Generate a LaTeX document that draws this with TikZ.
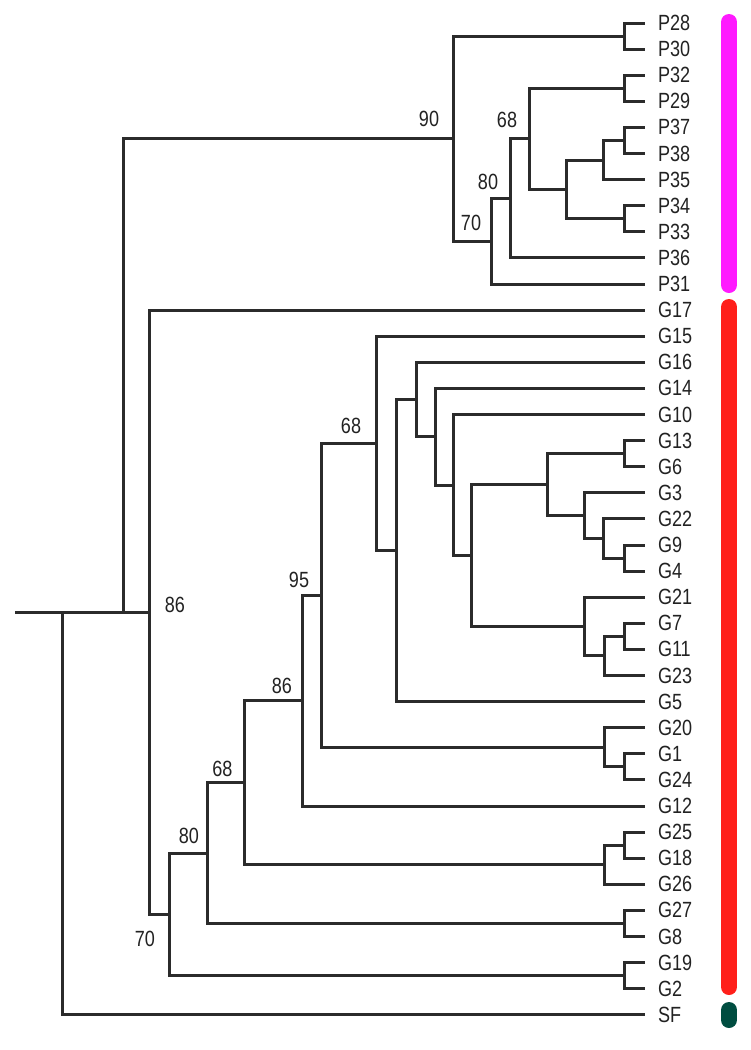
\documentclass[tikz,border=0pt]{standalone}
\usepackage{fontspec}
\setmainfont{Liberation Sans}[FakeStretch=0.82]
\definecolor{ln}{HTML}{2B2B2B}
\definecolor{txt}{HTML}{222222}
\definecolor{cP}{HTML}{FF1AFF}
\definecolor{cG}{HTML}{FF1F1A}
\definecolor{cS}{HTML}{004D40}
\newcommand\lblfont{\fontsize{22}{24}\selectfont}
\begin{document}
\begin{tikzpicture}[x=1pt,y=-1pt,
  br/.style={line width=3pt, draw=ln},
  leaf/.style={anchor=west, inner xsep=0pt, inner ysep=0pt, outer xsep=13pt, outer ysep=0pt, font=\lblfont, text=txt},
  bs/.style={inner sep=0pt, font=\lblfont, text=txt},
  bar/.style={line width=16pt, line cap=round}]
\useasboundingbox (0,0) rectangle (751,1050);
% leaves
\foreach \n/\i in {P28/0,P30/1,P32/2,P29/3,P37/4,P38/5,P35/6,P34/7,P33/8,P36/9,P31/10,
  G17/11,G15/12,G16/13,G14/14,G10/15,G13/16,G6/17,G3/18,G22/19,G9/20,G4/21,G21/22,G7/23,G11/24,G23/25,
  G5/26,G20/27,G1/28,G24/29,G12/30,G25/31,G18/32,G26/33,G27/34,G8/35,G19/36,G2/37,SF/38}
  \node[leaf] (\n) at (645,{23+26.1*\i}) {\n};
% internal nodes, P clade
\coordinate (nA) at (624,36.05);
\coordinate (nB) at (624,88.25);
\coordinate (nF) at (624,140.45);
\coordinate (nD) at (603,160.0);
\coordinate (nE) at (624,218.75);
\coordinate (nC) at (566,189.4);
\coordinate (nP68) at (529,138.8);
\coordinate (nP80) at (510,198.35);
\coordinate (nP70) at (491,241.2);
\coordinate (nP90) at (453,138.6);
% G clade
\coordinate (nS) at (624,636.35);
\coordinate (nR2) at (604,655.9);
\coordinate (nN) at (584,626.55);
\coordinate (nGQ) at (624,558.05);
\coordinate (nGP) at (603,538.5);
\coordinate (nGO) at (584,515.65);
\coordinate (nGM2) at (624,453.65);
\coordinate (nGM) at (547,484.65);
\coordinate (nGL) at (471,555.6);
\coordinate (nGK) at (453,485.05);
\coordinate (nGJ) at (435,436.7);
\coordinate (nGI) at (416,399.5);
\coordinate (nGH) at (396,550.55);
\coordinate (nG68) at (376,443.4);
\coordinate (nGT2) at (624,766.85);
\coordinate (nGT) at (604,747.3);
\coordinate (nG95) at (321,595.35);
\coordinate (nG86) at (302,700.7);
\coordinate (nGU2) at (624,845.15);
\coordinate (nGU) at (604,864.7);
\coordinate (nG68b) at (244,782.7);
\coordinate (nGV) at (624,923.45);
\coordinate (nG80) at (207,853.1);
\coordinate (nGW) at (624,975.65);
\coordinate (nG70) at (169,914.4);
\coordinate (nG) at (149,612.25);
% root
\coordinate (root) at (15,612.25);
\coordinate (nR) at (62,612.25);
\coordinate (nPG) at (123,612.25);
% connectors P clade
\foreach \p/\c in {nA/P28,nA/P30,nB/P32,nB/P29,nF/P37,nF/P38,nD/nF,nD/P35,nE/P34,nE/P33,
  nC/nD,nC/nE,nP68/nB,nP68/nC,nP80/nP68,nP80/P36,nP70/nP80,nP70/P31,nP90/nA,nP90/nP70}
  \draw[br] (\p) |- (\c);
% connectors G clade
\foreach \p/\c in {nS/G7,nS/G11,nR2/nS,nR2/G23,nN/G21,nN/nR2,nGQ/G9,nGQ/G4,nGP/G22,nGP/nGQ,
  nGO/G3,nGO/nGP,nGM2/G13,nGM2/G6,nGM/nGM2,nGM/nGO,nGL/nGM,nGL/nN,nGK/G10,nGK/nGL,
  nGJ/G14,nGJ/nGK,nGI/G16,nGI/nGJ,nGH/nGI,nGH/G5,nG68/G15,nG68/nGH,nGT2/G1,nGT2/G24,
  nGT/G20,nGT/nGT2,nG95/nG68,nG95/nGT,nG86/nG95,nG86/G12,nGU2/G25,nGU2/G18,nGU/nGU2,nGU/G26,
  nG68b/nG86,nG68b/nGU,nGV/G27,nGV/G8,nG80/nG68b,nG80/nGV,nGW/G19,nGW/G2,nG70/nG80,nG70/nGW,
  nG/G17,nG/nG70}
  \draw[br] (\p) |- (\c);
% root connectors
\draw[br] (root) -- (nR);
\draw[br] (nR) |- (SF);
\draw[br] (nR) -- (nPG);
\draw[br] (nPG) |- (nP90);
\draw[br] (nPG) -- (nG);
% support values
\node[bs] (l90) at (429,119) {90};
\node[bs] (lP68) at (507,119.5) {68};
\node[bs] (lP80) at (488,181.7) {80};
\node[bs] (lP70) at (471,222.7) {70};
\node[bs] (lG86) at (175,605) {86};
\node[bs] (lG68) at (351,426) {68};
\node[bs] (lG95) at (299,579.5) {95};
\node[bs] (lG86b) at (282,685.5) {86};
\node[bs] (lG68b) at (222.5,769) {68};
\node[bs] (lG80) at (189,836) {80};
\node[bs] (lG70) at (145,939) {70};
% group bars
\draw[bar, cP] (729,22) -- (729,285);
\draw[bar, cG] (729,307) -- (729,987);
\draw[bar, cS] (729,1010) -- (729,1020);
\end{tikzpicture}
\end{document}
